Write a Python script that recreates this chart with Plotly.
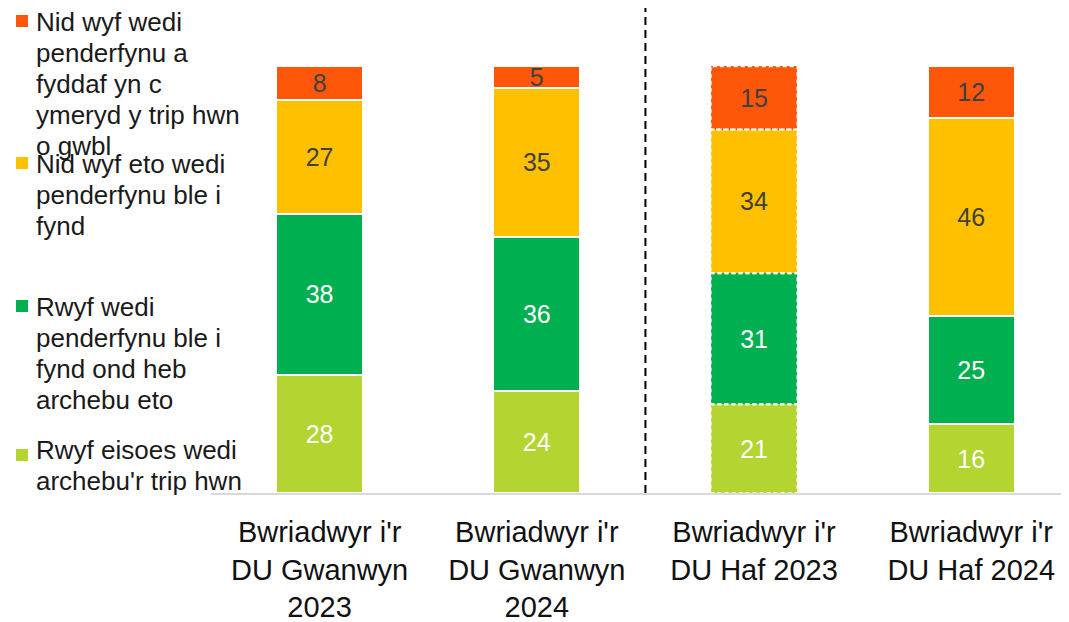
import plotly.graph_objects as go

categories = ["Bwriadwyr i'r<br>DU Gwanwyn<br>2023", "Bwriadwyr i'r<br>DU Gwanwyn<br>2024",
              "Bwriadwyr i'r<br>DU Haf 2023", "Bwriadwyr i'r<br>DU Haf 2024"]
booked = [28, 24, 21, 16]
decided_not_booked = [38, 36, 31, 25]
not_decided_where = [27, 35, 34, 46]
not_decided_if = [8, 5, 15, 12]

legend_lines = [
    ["Nid wyf wedi", "penderfynu a", "fyddaf yn c", "ymeryd y trip hwn", "o gwbl"],
    ["Nid wyf eto wedi", "penderfynu ble i", "fynd"],
    ["Rwyf wedi", "penderfynu ble i", "fynd ond heb", "archebu eto"],
    ["Rwyf eisoes wedi", "archebu'r trip hwn"],
]

C_LG = "#B3D431"
C_G = "#00B050"
C_Y = "#FFC000"
C_O = "#FF5709"

OFF = 8  # page body margin
W, H = 1069 - OFF, 622 - OFF
PLOT_LEFT, PLOT_RIGHT, PLOT_TOP, PLOT_BOTTOM = 211, 1069, 66, 493  # page pixels
L = PLOT_LEFT - OFF
R = W - (PLOT_RIGHT - OFF)
T = PLOT_TOP - OFF
B = H - (PLOT_BOTTOM - OFF)
PW, PH = W - L - R, H - T - B

def px(x):
    return (x - PLOT_LEFT) / PW

def py(y):
    return (PLOT_BOTTOM - y) / PH

series = [
    ("booked", booked, C_LG, "white"),
    ("decided", decided_not_booked, C_G, "white"),
    ("where", not_decided_where, C_Y, "#404040"),
    ("if", not_decided_if, C_O, "#404040"),
]

fig = go.Figure()
xs = list(range(len(categories)))
for name, vals, col, tcol in series:
    fig.add_trace(go.Bar(
        x=xs, y=vals, name=name, width=0.4,
        marker=dict(color=col, line=dict(color="white", width=[2, 2, 0, 2])),
        text=[str(v) for v in vals], textposition="inside", insidetextanchor="middle",
        textangle=0, textfont=dict(family="Liberation Sans, Arial", size=25, color=tcol),
        constraintext="none", cliponaxis=False, showlegend=False,
    ))

# dashed outline for third bar segments
idx = 2
tot = sum(v[idx] for _, v, _, _ in series)
cum = 0.0
for _, vals, _, _ in series:
    y0 = cum / tot * 100
    cum += vals[idx]
    y1 = cum / tot * 100
    fig.add_shape(type="rect", xref="x", yref="y", x0=idx - 0.2, x1=idx + 0.2,
                  y0=y0, y1=y1, line=dict(color="white", width=2, dash="4px,3px"))

# vertical dashed separator
fig.add_shape(type="line", xref="x", yref="paper", x0=1.5, x1=1.5, y0=0, y1=py(OFF),
              line=dict(color="black", width=2, dash="8px,5px"))

# custom legend
leg_cols = [C_O, C_Y, C_G, C_LG]
first_line_y = [22, 164, 307, 450]
sq_y = [21, 163, 306, 455]
line_step = 31
for k in range(4):
    lines = legend_lines[k]
    fig.add_shape(type="rect", xref="paper", yref="paper",
                  x0=px(16), x1=px(28), y0=py(sq_y[k] - 6), y1=py(sq_y[k] + 6),
                  fillcolor=leg_cols[k], line=dict(width=0))
    for j, t in enumerate(lines):
        fig.add_annotation(xref="paper", yref="paper", x=px(34), y=py(first_line_y[k] + j * line_step),
                           text=t, showarrow=False, xanchor="left", yanchor="middle",
                           font=dict(family="Liberation Sans, Arial", size=26, color="#1a1a1a"))

fig.update_layout(
    width=W, height=H, barmode="stack", barnorm="percent",
    margin=dict(l=L, r=R, t=T, b=B, autoexpand=False),
    plot_bgcolor="white", paper_bgcolor="white",
    uniformtext=dict(mode="show", minsize=25),
    xaxis=dict(tickmode="array", tickvals=xs, ticktext=categories, range=[-0.5, 3.45],
               showline=True, linecolor="#D9D9D9", linewidth=2, ticks="", showgrid=False,
               ticklabelstandoff=12, automargin=False,
               tickfont=dict(family="Liberation Sans, Arial", size=29, color="#111111")),
    yaxis=dict(range=[0, 100.05], visible=False, showgrid=False, automargin=False),
)

fig.write_html("out.html")
